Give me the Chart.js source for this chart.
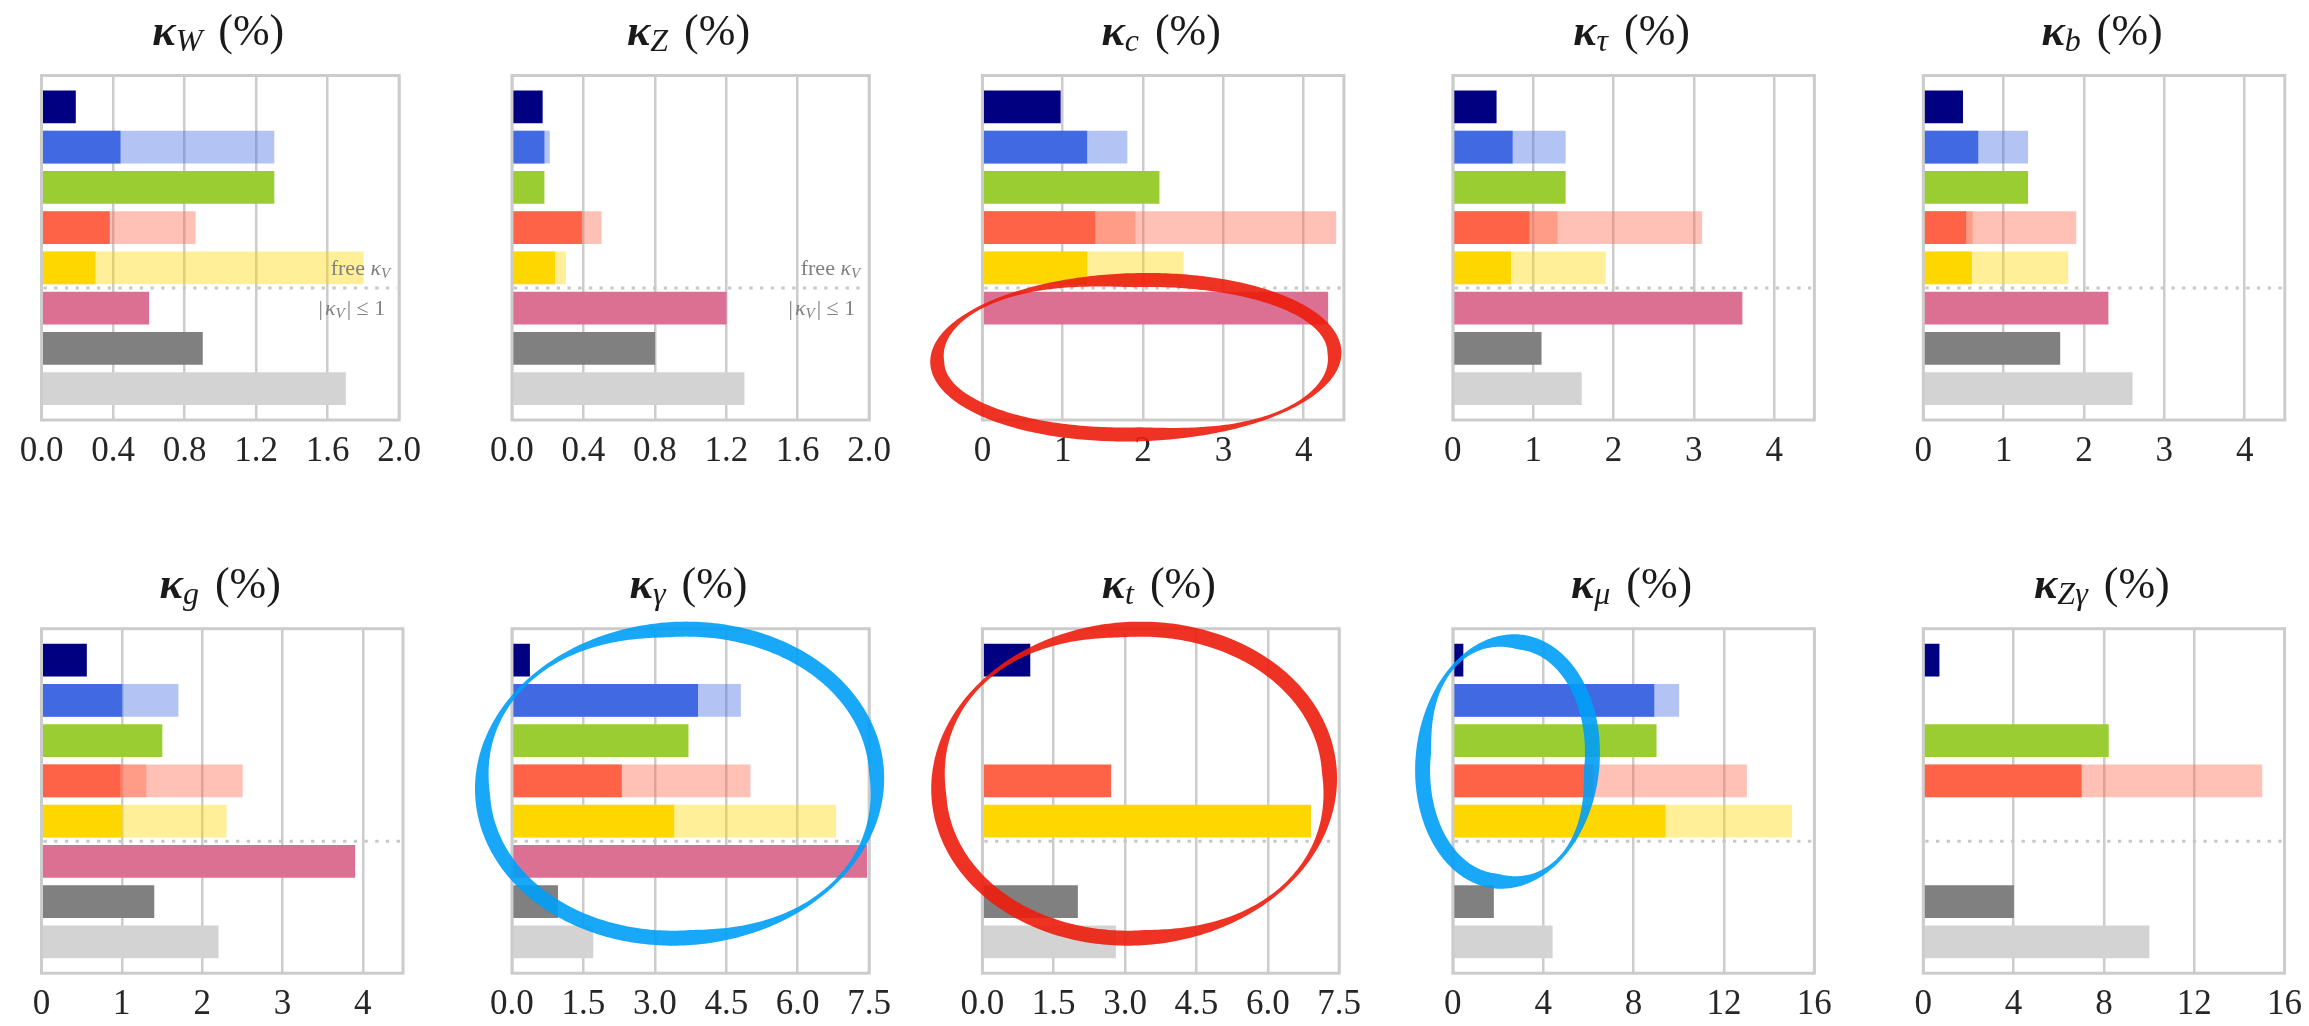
<!DOCTYPE html>
<html>
<head>
<meta charset="utf-8">
<title>Higgs coupling precision</title>
<script src="https://cdn.jsdelivr.net/npm/chart.js@4/dist/chart.umd.min.js"></script>
<style>
  html, body { margin: 0; padding: 0; background: #ffffff; }
  body { width: 2309px; height: 1026px; overflow: hidden; position: relative; }
  canvas.panel { position: absolute; }
  #rings { position: absolute; left: 0; top: 0; pointer-events: none; }
</style>
</head>
<body>
<canvas id="rings" width="2309" height="1026"></canvas>
<script>
// Row colours, top to bottom (the same eight rows in every panel)
const rowColors = ['#000080', '#4169e1', '#9acd32', '#ff6347', '#ffd700', '#db7093', '#808080', '#d3d3d3'];
const fadedAlpha = 0.4;

// Panel subscripts: kappa_X (%)
const couplings = ['W', 'Z', 'c', 'τ', 'b', 'g', 'γ', 't', 'μ', 'Zγ'];

// Axis tick values and their label precision
const ticksFine  = [0, 0.4, 0.8, 1.2, 1.6, 2.0];
const ticksUnit  = [0, 1, 2, 3, 4];
const ticksHalf  = [0, 1.5, 3.0, 4.5, 6.0, 7.5];
const ticksWide  = [0, 4, 8, 12, 16];

// Precision (%) per row; null = no bar. "alt" arrays are the faded bars.
const kW_main   = [0.19, 0.44, 1.30, 0.38, 0.30, 0.60, 0.90, 1.70];
const kW_alt1   = [null, 1.30, null, 0.86, 1.80, null, null, null];
const kW_alt2   = [null, null, null, null, null, null, null, null];

const kZ_main   = [0.17, 0.18, 0.18, 0.39, 0.24, 1.20, 0.80, 1.30];
const kZ_alt1   = [null, 0.21, null, 0.50, 0.30, null, null, null];
const kZ_alt2   = [null, null, null, null, null, null, null, null];

const kc_main   = [0.97, 1.30, 2.20, 1.40, 1.30, 4.30, null, null];
const kc_alt1   = [null, 1.80, null, 1.90, 2.50, null, null, null];
const kc_alt2   = [null, null, null, 4.40, null, null, null, null];

const ktau_main = [0.54, 0.74, 1.40, 0.95, 0.72, 3.60, 1.10, 1.60];
const ktau_alt1 = [null, 1.40, null, 1.30, 1.90, null, null, null];
const ktau_alt2 = [null, null, null, 3.10, null, null, null, null];

const kb_main   = [0.49, 0.68, 1.30, 0.53, 0.60, 2.30, 1.70, 2.60];
const kb_alt1   = [null, 1.30, null, 0.61, 1.80, null, null, null];
const kb_alt2   = [null, null, null, 1.90, null, null, null, null];

const kg_main   = [0.56, 1.00, 1.50, 0.98, 1.00, 3.90, 1.40, 2.20];
const kg_alt1   = [null, 1.70, null, 1.30, 2.30, null, null, null];
const kg_alt2   = [null, null, null, 2.50, null, null, null, null];

const kgam_main = [0.37, 3.90, 3.70, 2.30, 3.40, 7.45, 0.96, 1.70];
const kgam_alt1 = [null, 4.80, null, 5.00, 6.80, null, null, null];
const kgam_alt2 = [null, null, null, null, null, null, null, null];

const kt_main   = [1.00, null, null, 2.70, 6.90, null, 2.00, 2.80];
const kt_alt1   = [null, null, null, null, null, null, null, null];
const kt_alt2   = [null, null, null, null, null, null, null, null];

const kmu_main  = [0.45, 8.90, 9.00, 6.20, 9.40, null, 1.80, 4.40];
const kmu_alt1  = [null, 10.0, null, 13.0, 15.0, null, null, null];
const kmu_alt2  = [null, null, null, null, null, null, null, null];

const kZg_main  = [0.70, null, 8.20, 7.00, null, null, 4.00, 10.0];
const kZg_alt1  = [null, null, null, 15.0, null, null, null, null];
const kZg_alt2  = [null, null, null, null, null, null, null, null];

// Highlight rings, in each panel's data units (x = %, y = row index)
const rings = [
  { panel: 2, cx: 1.91, cy: 6.22, rx: 2.56, ry: 2.09, tilt: -1.5, width: 14, color: 'rgba(236,28,12,0.9)' },
  { panel: 6, cx: 3.52, cy: 3.07, rx: 4.30, ry: 4.02, tilt: -4,   width: 15, color: 'rgba(0,158,247,0.9)' },
  { panel: 7, cx: 3.19, cy: 3.07, rx: 4.27, ry: 4.02, tilt: -4,   width: 15, color: 'rgba(236,28,12,0.9)' },
  { panel: 8, cx: 2.42, cy: 2.52, rx: 4.07, ry: 3.17, tilt: 6,    width: 15, color: 'rgba(0,158,247,0.9)' }
];

const panels = [
  { max: 2.0, ticks: ticksFine, dec: 1, series: [kW_main, kW_alt1, kW_alt2], notes: true },
  { max: 2.0, ticks: ticksFine, dec: 1, series: [kZ_main, kZ_alt1, kZ_alt2], notes: true },
  { max: 4.5, ticks: ticksUnit, dec: 0, series: [kc_main, kc_alt1, kc_alt2] },
  { max: 4.5, ticks: ticksUnit, dec: 0, series: [ktau_main, ktau_alt1, ktau_alt2] },
  { max: 4.5, ticks: ticksUnit, dec: 0, series: [kb_main, kb_alt1, kb_alt2] },
  { max: 4.5, ticks: ticksUnit, dec: 0, series: [kg_main, kg_alt1, kg_alt2] },
  { max: 7.5, ticks: ticksHalf, dec: 1, series: [kgam_main, kgam_alt1, kgam_alt2] },
  { max: 7.5, ticks: ticksHalf, dec: 1, series: [kt_main, kt_alt1, kt_alt2] },
  { max: 16,  ticks: ticksWide, dec: 0, series: [kmu_main, kmu_alt1, kmu_alt2] },
  { max: 16,  ticks: ticksWide, dec: 0, series: [kZg_main, kZg_alt1, kZg_alt2] }
];

// ---- layout ----
const SERIF = '"Liberation Serif", "DejaVu Serif", serif';
const AREA_W = 361.5, AREA_H = 344.5;
const COL_X0 = 41.5, COL_STEP = 470.45;
const ROW_Y0 = 75.5, ROW_STEP = 553.2;
const CANVAS_W = 430, CANVAS_H = 476, XAXIS_H = 50;
const Y_MIN = -0.78, Y_MAX = 7.78, SPLIT_ROW = 4.5;

function hexToRgba(hex, a) {
  const n = parseInt(hex.slice(1), 16);
  return `rgba(${(n >> 16) & 255},${(n >> 8) & 255},${n & 255},${a})`;
}

// Draw a run of differently styled text pieces on one baseline
function drawRich(ctx, pieces, x, y, align) {
  let total = 0;
  const widths = pieces.map(p => {
    ctx.font = p.font;
    const w = ctx.measureText(p.text).width + (p.gap || 0);
    total += w;
    return w;
  });
  let cur = align === 'center' ? x - total / 2 : align === 'right' ? x - total : x;
  ctx.textBaseline = 'alphabetic';
  ctx.textAlign = 'left';
  pieces.forEach((p, i) => {
    ctx.font = p.font;
    ctx.fillStyle = p.color;
    ctx.fillText(p.text, cur + (p.gap || 0), y + (p.dy || 0));
    cur += widths[i];
  });
}

const panelDecor = {
  id: 'panelDecor',
  afterDatasetsDraw(chart, args, opts) {
    const { ctx, chartArea: a, scales } = chart;
    ctx.save();
    // dotted separator between the two groups of rows
    const ySplit = scales.y.getPixelForValue(SPLIT_ROW);
    ctx.strokeStyle = '#c8c8c8';
    ctx.lineWidth = 3;
    ctx.setLineDash([3.3, 7.4]);
    ctx.beginPath();
    ctx.moveTo(a.left + 2, ySplit);
    ctx.lineTo(a.right - 2, ySplit);
    ctx.stroke();
    ctx.setLineDash([]);
    // plot frame
    ctx.strokeStyle = '#cccccc';
    ctx.lineWidth = 3;
    ctx.strokeRect(a.left, a.top, a.right - a.left, a.bottom - a.top);
    // group labels
    if (opts.notes) {
      const g = '#808080';
      drawRich(ctx, [
        { text: 'free ', font: `22px ${SERIF}`, color: g },
        { text: 'κ', font: `italic 22px ${SERIF}`, color: g },
        { text: 'V', font: `italic 15px ${SERIF}`, color: g, dy: 3 }
      ], a.right - 9, ySplit - 13, 'right');
      drawRich(ctx, [
        { text: '|', font: `22px ${SERIF}`, color: g },
        { text: 'κ', font: `italic 22px ${SERIF}`, color: g, gap: 2 },
        { text: 'V', font: `italic 15px ${SERIF}`, color: g, dy: 3 },
        { text: '| ≤ 1', font: `22px ${SERIF}`, color: g, gap: 2 }
      ], a.right - 14, ySplit + 27, 'right');
    }
    // panel title
    const cx = (a.left + a.right) / 2;
    drawRich(ctx, [
      { text: 'κ', font: `italic bold 44px ${SERIF}`, color: '#1a1a1a' },
      { text: opts.sub, font: `italic 32px ${SERIF}`, color: '#1a1a1a', dy: 6 },
      { text: ' (%)', font: `44px ${SERIF}`, color: '#1a1a1a', gap: 5 }
    ], cx - 2, a.top - 31, 'center');
    ctx.restore();
  }
};

// Turn one row array into bar points plus a matching colour list
function toBars(arr, alpha) {
  const data = [], colors = [];
  arr.forEach((v, i) => {
    if (v === null) return;
    data.push({ x: v, y: i });
    colors.push(alpha < 1 ? hexToRgba(rowColors[i], alpha) : rowColors[i]);
  });
  return { data, backgroundColor: colors };
}

const charts = [];
const offsets = [];

panels.forEach((p, i) => {
  const col = i % 5, row = Math.floor(i / 5);
  const L = COL_X0 + col * COL_STEP;
  const T = ROW_Y0 + row * ROW_STEP;
  const cl = Math.round(L) - 40;
  const ct = Math.round(T) - 76;
  const pl = L - cl, pt = T - ct;
  const pr = CANVAS_W - pl - AREA_W;
  const pb = CANVAS_H - pt - AREA_H - XAXIS_H;

  const cv = document.createElement('canvas');
  cv.className = 'panel';
  cv.width = CANVAS_W; cv.height = CANVAS_H;
  cv.style.left = cl + 'px'; cv.style.top = ct + 'px';
  document.body.insertBefore(cv, document.getElementById('rings'));
  offsets.push({ x: cl, y: ct });

  const [main, alt1, alt2] = p.series;
  const datasets = [toBars(main, 1), toBars(alt1, fadedAlpha), toBars(alt2, fadedAlpha)];

  charts.push(new Chart(cv, {
    type: 'bar',
    data: { datasets },
    options: {
      indexAxis: 'y',
      responsive: false,
      animation: false,
      events: [],
      grouped: false,
      barThickness: 32,
      borderWidth: 0,
      layout: { autoPadding: false, padding: { left: pl, right: pr, top: pt, bottom: pb } },
      plugins: {
        legend: { display: false },
        tooltip: { enabled: false },
        title: { display: false },
        panelDecor: { sub: couplings[i], notes: !!p.notes }
      },
      scales: {
        y: { type: 'linear', reverse: true, min: Y_MIN, max: Y_MAX, offset: false, display: false },
        x: {
          type: 'linear', position: 'bottom', min: 0, max: p.max, offset: false,
          afterBuildTicks: s => { s.ticks = p.ticks.map(v => ({ value: v })); },
          afterFit: s => { s.height = XAXIS_H; },
          ticks: {
            callback: v => Number(v).toFixed(p.dec),
            font: { family: SERIF, size: 35 },
            color: '#262626',
            padding: 11,
            maxRotation: 0,
            autoSkip: false
          },
          grid: { color: '#cccccc', lineWidth: 2.5, drawTicks: false },
          border: { display: false }
        }
      }
    },
    plugins: [panelDecor]
  }));
});

// ---- highlight rings, placed through each panel's scales ----
(function drawRings() {
  const ctx = document.getElementById('rings').getContext('2d');
  rings.forEach(r => {
    const ch = charts[r.panel], off = offsets[r.panel];
    const xs = ch.scales.x, ys = ch.scales.y;
    const cx = xs.getPixelForValue(r.cx) + off.x;
    const cy = ys.getPixelForValue(r.cy) + off.y;
    const rx = Math.abs(xs.getPixelForValue(r.cx + r.rx) - xs.getPixelForValue(r.cx));
    const ry = Math.abs(ys.getPixelForValue(r.cy + r.ry) - ys.getPixelForValue(r.cy));
    const th = r.tilt * Math.PI / 180;
    const cos = Math.cos(th), sin = Math.sin(th);
    const N = 360;
    const place = (lx, ly) => [cx + lx * cos - ly * sin, cy + lx * sin + ly * cos];
    const outer = [], inner = [];
    for (let k = 0; k < N; k++) {
      const t = k / N * 2 * Math.PI;
      // brush stroke thins out toward upper-left and lower-right
      const thin = Math.pow(Math.max(0, Math.cos(2 * (t - Math.PI / 4))), 1.3);
      const w = r.width * (1 - 0.75 * thin);
      outer.push(place(rx * Math.cos(t), ry * Math.sin(t)));
      inner.push(place((rx - w) * Math.cos(t), (ry - w) * Math.sin(t)));
    }
    ctx.beginPath();
    outer.forEach((p, k) => k ? ctx.lineTo(p[0], p[1]) : ctx.moveTo(p[0], p[1]));
    ctx.closePath();
    inner.slice().reverse().forEach((p, k) => k ? ctx.lineTo(p[0], p[1]) : ctx.moveTo(p[0], p[1]));
    ctx.closePath();
    ctx.fillStyle = r.color;
    ctx.fill('evenodd');
  });
})();
</script>
</body>
</html>
